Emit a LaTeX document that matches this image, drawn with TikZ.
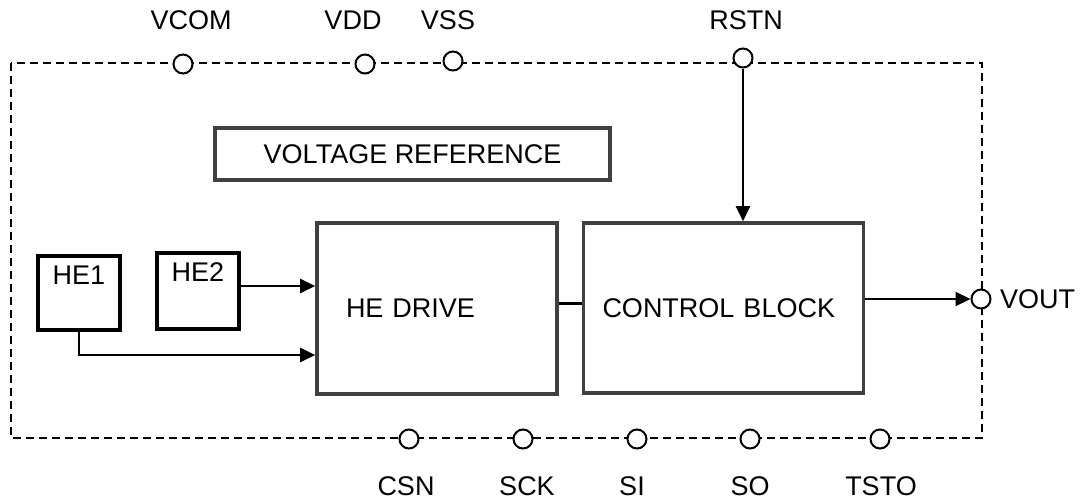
\documentclass[tikz,border=0pt]{standalone}
\usepackage{fontspec}
\setmainfont{Liberation Sans}
\usetikzlibrary{arrows.meta}
\definecolor{boxGray}{RGB}{64,64,64}

\begin{document}
\begin{tikzpicture}[
    x=1pt, y=-1pt,
    font=\fontsize{27}{31}\selectfont,
    blk/.style={draw=boxGray, line width=3.6pt, inner ysep=0pt},
    he/.style={draw=black, line width=4.6pt, minimum width=82, inner ysep=9pt,
               text height=19pt, text depth=37pt},
    pin/.style={circle, draw, fill=white, line width=2pt, minimum size=19pt, inner sep=0pt},
    lbl/.style={inner sep=0pt},
    a/.style={-{Triangle[length=15pt, width=14pt]}, line width=2.2pt},
  ]
    \useasboundingbox (0,0) rectangle (1080,501);
    % chip outline
    \draw[dashed, dash pattern=on 8pt off 5pt, line width=2pt] (11,63) rectangle (982,438);

    \node[blk, minimum width=395, minimum height=52] (vref) at (412.5,154) {VOLTAGE REFERENCE};
    \node[blk, minimum height=171, text width=182, align=left, inner xsep=29] (drive) at (437,308.5) {HE DRIVE};
    \node[blk, minimum height=170, text width=242, align=left, inner xsep=19] (ctrl) at (723.5,308) {CONTROL BLOCK};
    \node[he] (he1) at (79,293) {HE1};
    \node[he, text depth=39pt] (he2) at (198,291) {HE2};

    % pins
    \node[pin] (vcom) at (183,64) {};
    \node[pin] (vdd) at (365,64) {};
    \node[pin] (vss) at (453,61) {};
    \node[pin] (rstn) at (743,58) {};
    \node[pin] (vout) at (981,299) {};
    \node[pin] (csn) at (409,439) {};
    \node[pin] (sck) at (523,439) {};
    \node[pin] (si) at (637,439) {};
    \node[pin] (so) at (750,439) {};
    \node[pin] (tsto) at (880,439) {};

    \node[lbl] (lvcom) at (191,20) {VCOM};
    \node[lbl] (lvdd) at (353,20) {VDD};
    \node[lbl] (lvss) at (448,20) {VSS};
    \node[lbl] (lrstn) at (746,20) {RSTN};
    \node[lbl, anchor=west] (lvout) at (1000,299) {VOUT};
    \node[lbl] (lcsn) at (406,486) {CSN};
    \node[lbl] (lsck) at (527,486) {SCK};
    \node[lbl] (lsi) at (632,486) {SI};
    \node[lbl] (lso) at (750,486) {SO};
    \node[lbl] (ltsto) at (881,486) {TSTO};

    % signals
    \draw[a] ([yshift=5pt]he2.east) -- ([yshift=5pt]he2.east -| drive.west);
    \draw[a, shorten <=-2pt] (he1.south) |- ([yshift=-46.5pt]drive.west);
    \draw[line width=2.2pt] ([yshift=5pt]drive.east) -- ([yshift=5pt]drive.east -| ctrl.west);
    \draw[a] (vout -| ctrl.east) -- (vout.west);
    \draw[a] (rstn.south) -- (rstn.south |- ctrl.north);
  \end{tikzpicture}
\end{document}
